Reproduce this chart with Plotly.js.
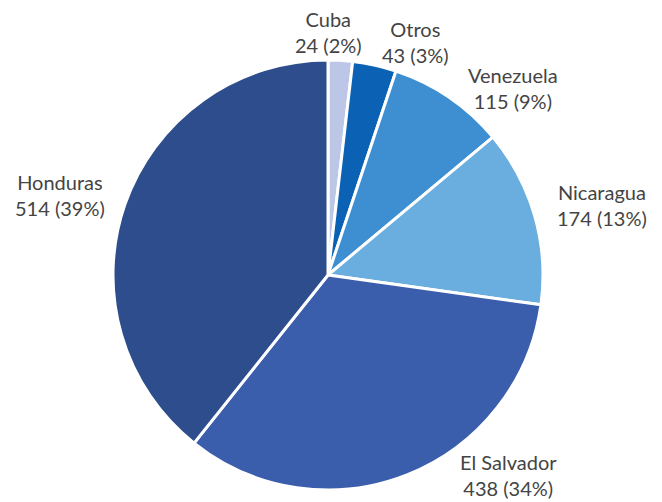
<!DOCTYPE html>
<html><head><meta charset="utf-8">
<script src="https://cdn.plot.ly/plotly-3.0.1.min.js"></script>
<style>html,body{margin:0;padding:0;background:#fff}</style>
</head><body><div id="chart" style="width:662px;height:502px"></div>
<script>
const categories = ["Cuba", "Otros", "Venezuela", "Nicaragua", "El Salvador", "Honduras"];
const values = [24, 43, 115, 174, 438, 514];
const percents = ["2%", "3%", "9%", "13%", "34%", "39%"];
const colors = ["#bcc6e6", "#0b62b5", "#3d8fd2", "#6aaddf", "#3a5eac", "#2e4d8c"];

// label block centres, in pixels from the top-left of the 662x502 canvas (layout only)
const labelPos = [[328, 32], [415, 42], [513, 88], [602, 205], [508, 475], [60, 195]];

const W = 662, H = 502;
const trace = {
  type: "pie",
  labels: categories,
  values: values,
  sort: false,
  direction: "clockwise",
  rotation: 0,
  marker: {colors: colors, line: {color: "#ffffff", width: 3}},
  textinfo: "none",
  automargin: false,
  hoverinfo: "none",
  domain: {x: [0.1707, 0.8202], y: [0.0239, 0.8805]}
};

const annotations = categories.map((c, i) => ({
  xref: "paper", yref: "paper",
  x: labelPos[i][0] / W, y: 1 - labelPos[i][1] / H,
  xanchor: "center", yanchor: "middle",
  text: c + "<br>" + values[i] + " (" + percents[i] + ")",
  showarrow: false, align: "center",
  font: {family: "Lato, sans-serif", size: 20, color: "#444444"}
}));

Plotly.newPlot("chart", [trace], {
  width: W, height: H,
  margin: {l: 0, r: 0, t: 0, b: 0},
  showlegend: false,
  paper_bgcolor: "#ffffff",
  font: {family: "Lato, sans-serif"},
  annotations: annotations
}, {displayModeBar: false, staticPlot: true});
</script></body></html>
